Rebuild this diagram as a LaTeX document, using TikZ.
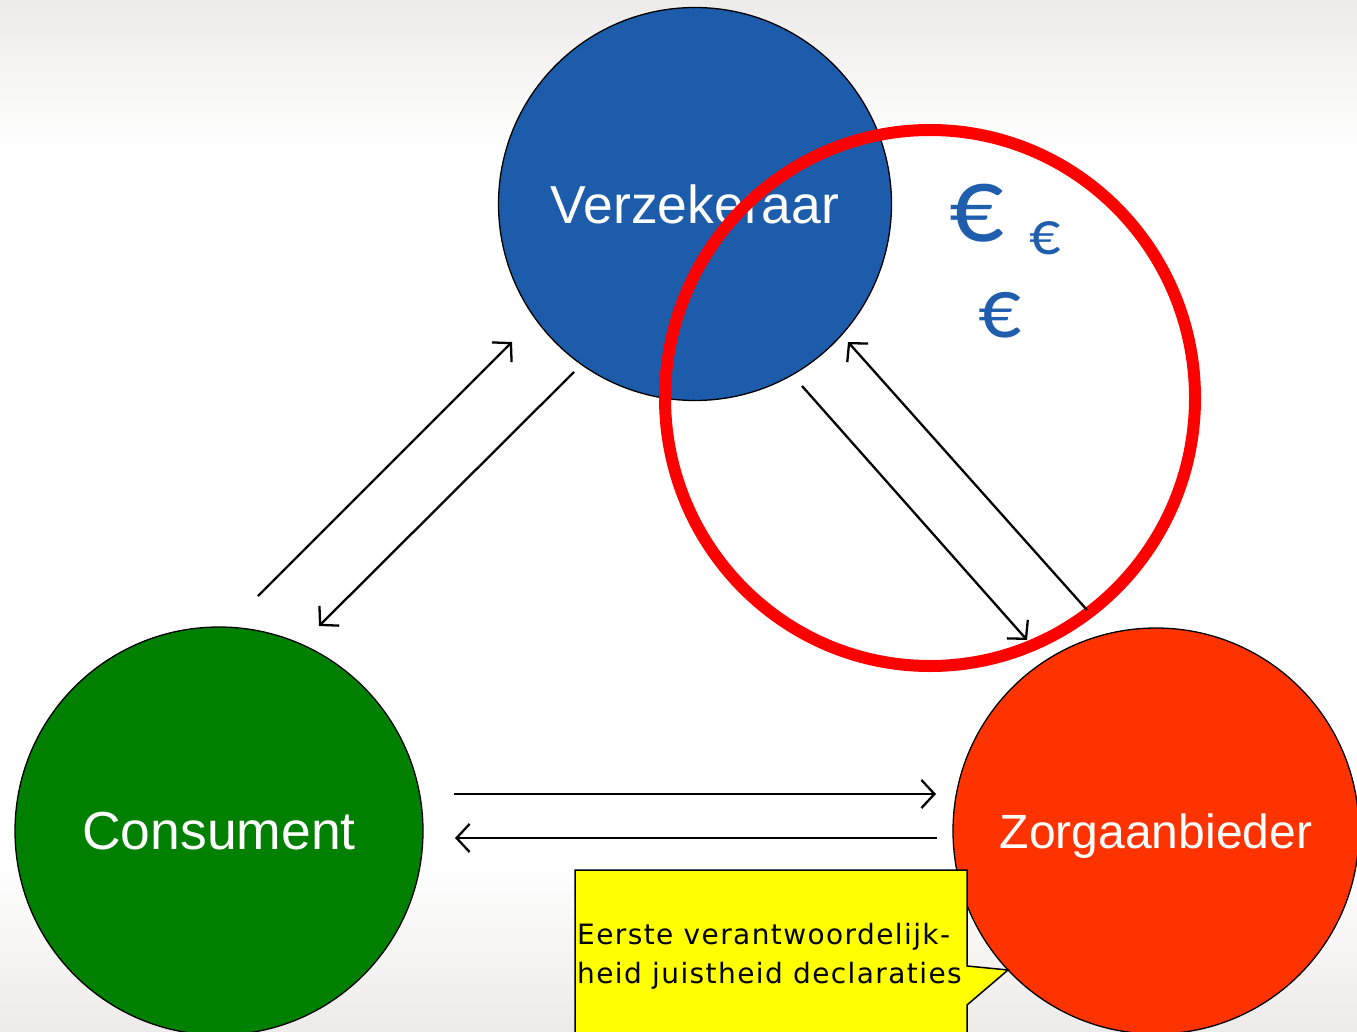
\documentclass[tikz,border=0pt]{standalone}
\usepackage{fontspec}
\setmainfont{Liberation Sans}
\newfontfamily\eurofont{Carlito}
\newfontfamily\callfont[LetterSpace=5]{DejaVu Sans}
\usetikzlibrary{arrows.meta}
\definecolor{bgtop}{HTML}{EDEBE9}
\definecolor{verzblue}{HTML}{1C5CAB}
\definecolor{consgreen}{HTML}{008000}
\definecolor{zorgred}{HTML}{FF3300}
\definecolor{ringred}{HTML}{FF0000}
\definecolor{eurblue}{HTML}{1F5DAD}
\definecolor{callyellow}{HTML}{FFFF00}
\tikzset{
  party/.style={circle, draw=black, line width=1.3pt, inner sep=0pt, text=white,
     font=\fontsize{53.5}{60}\selectfont},
  flow/.style={line width=2.3pt, -{Straight Barb[length=13pt,width=28pt,line width=2.3pt]}},
  euro/.style={text=eurblue, inner sep=0pt},
}
\begin{document}
\begin{tikzpicture}[x=1pt,y=-1pt]
\useasboundingbox (0,0) rectangle (1357,1032);
\fill[white] (0,0) rectangle (1357,1032);
\shade[top color=bgtop, bottom color=white] (0,0) rectangle (1357,150);
\shade[top color=white, bottom color=bgtop] (0,860) rectangle (1357,1032);

\node[party, fill=verzblue, minimum size=393pt] (verz) at (695,204) {Verzekeraar};
\node[party, fill=consgreen, minimum size=408pt] (cons) at (219,831) {Consument};
\node[party, fill=zorgred, minimum size=406pt, text depth=0pt,
      font=\fontsize{48}{56}\selectfont] (zorg) at (1156,831) {Zorgaanbieder};

\draw[ringred, line width=12pt] (930,398) ellipse [x radius=265, y radius=268];

\coordinate (a1s) at (258,596);  \coordinate (a1e) at (512,342);
\coordinate (a2s) at (574,372);  \coordinate (a2e) at (319,626);
\coordinate (a3s) at (802,386);  \coordinate (a3e) at (1027,640);
\coordinate (a4s) at (1087,610); \coordinate (a4e) at (848,342);
\coordinate (a5s) at (454,794);  \coordinate (a5e) at (936,794);
\coordinate (a6s) at (937,838);  \coordinate (a6e) at (455,838);
\draw[flow] (a1s) -- (a1e);
\draw[flow] (a2s) -- (a2e);
\draw[flow] (a3s) -- (a3e);
\draw[flow] (a4s) -- (a4e);
\draw[flow] (a5s) -- (a5e);
\draw[flow] (a6s) -- (a6e);

\node[euro, font=\eurofont\fontsize{108}{110}\selectfont] (e1) at (977,213) {€};
\node[euro, font=\eurofont\fontsize{62}{64}\selectfont] (e2) at (1045,238) {€};
\node[euro, font=\eurofont\fontsize{85}{88}\selectfont] (e3) at (1000,315) {€};

\draw[fill=callyellow, line width=1.5pt] (575,870) -- (967,870) -- (967,966) -- (1008,970)
   -- (967,1005) -- (967,1045) -- (575,1045) -- cycle;
\node[anchor=north west, inner sep=0pt, align=left,
      font=\callfont\fontsize{28}{39}\selectfont] (call) at (577,923)
  {Eerste verantwoordelijk-\\heid juistheid declaraties};
\end{tikzpicture}
\end{document}
